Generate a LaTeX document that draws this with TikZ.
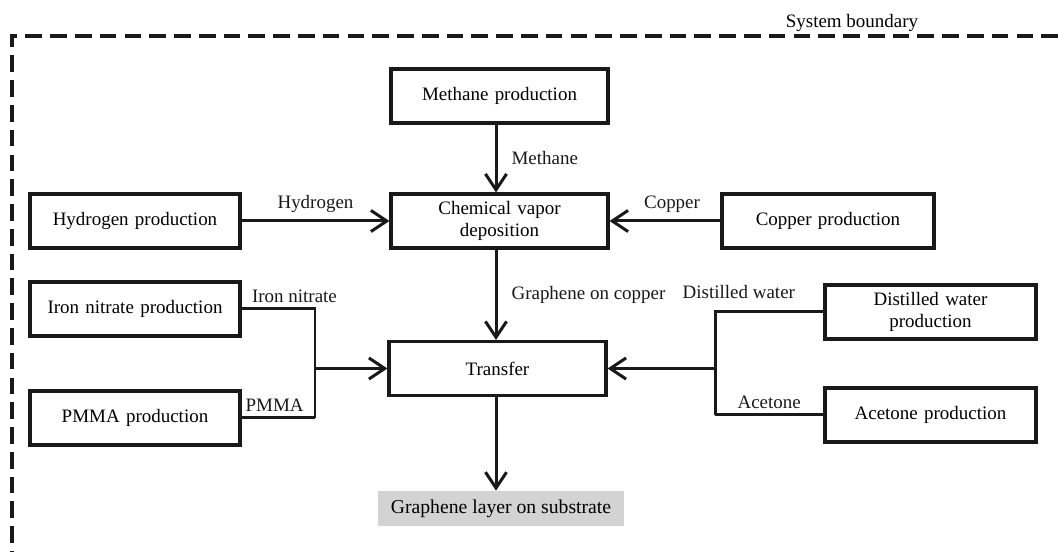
\documentclass[tikz,border=0pt]{standalone}
\usepackage{fontspec}
\setmainfont{Liberation Serif}
\usepackage{tikz}
\usetikzlibrary{arrows.meta,positioning,calc}
\definecolor{InkBlack}{RGB}{25,25,25}
\definecolor{OutGray}{RGB}{211,211,211}

\begin{document}
\begin{tikzpicture}[
      pNode/.style={draw=InkBlack,fill=white,minimum width=4.20cm,minimum height=1.08cm,
                    text width=4.0cm,align=center,inner sep=0pt,
                    font=\fontsize{10.8}{12.6}\selectfont,line width=1.8pt},
      cNode/.style={pNode,minimum width=4.34cm},
      oNode/.style={fill=OutGray,minimum width=4.92cm,minimum height=0.70cm,inner sep=0pt,
                    font=\fontsize{11.2}{12.6}\selectfont},
      lbl/.style={font=\fontsize{10.8}{12.6}\selectfont,inner sep=2pt},
      ar/.style={-{Straight Barb[length=9pt,width=12pt]},line width=1.7pt,color=InkBlack},
      ln/.style={line width=1.7pt,color=InkBlack},
      bnd/.style={line width=1.8pt,dash pattern=on 9.5pt off 4.6pt,color=InkBlack}
    ]
    \useasboundingbox (0,0) rectangle (21.16,11.04);

    % System boundary (top and left edges only)
    \draw[bnd] (21.16,10.32) -- (0.24,10.32) -- (0.24,0);
    \node(sb)[lbl] at (17.04,10.58) {System boundary};

    % Centre column
    \node(meth)[cNode] at (9.99, 9.12) {Methane production};
    \node(cvd)[cNode] at (9.99, 6.62) {Chemical vapor\\deposition};
    \node(tr)[cNode] at (9.95, 3.67) {Transfer};
    \node(out)[oNode] at (10.02, 0.87) {Graphene layer on substrate};

    % Side inputs
    \node(hyd)[pNode] at (2.70, 6.62) {Hydrogen production};
    \node(cu)[pNode,minimum width=4.24cm] at (16.56, 6.62) {Copper production};
    \node(fe)[pNode] at (2.70, 4.86) {Iron nitrate production};
    \node(pmma)[pNode] at (2.70, 2.68) {PMMA production};
    \node(dw)[pNode,minimum width=4.22cm] at (18.61, 4.80) {Distilled water\\production};
    \node(ac)[pNode,minimum width=4.22cm] at (18.61, 2.74) {Acetone production};

    % Junctions
    \coordinate(jL) at (6.30, 3.67);
    \coordinate(jR) at (14.30, 3.67);

    % Main line
    \draw[ar] (meth.south -| 9.92,0) -- node[lbl,right,xshift=6pt]{Methane} (cvd.north -| 9.92,0);
    \draw[ar] (cvd.south -| 9.92,0) -- node[lbl,right,xshift=6pt]{Graphene on copper} (tr.north -| 9.92,0);
    \draw[ar] (tr.south -| 9.92,0) -- (out.north -| 9.92,0);

    % CVD inputs
    \draw[ar] (hyd) -- node[lbl,above,yshift=2pt]{Hydrogen} (cvd);
    \draw[ar] (cu) -- node[lbl,above,yshift=2pt,xshift=4pt]{Copper} (cvd);

    % Transfer inputs, left
    \draw[ln] (fe.east) -- node[lbl,above,pos=0.72,yshift=1pt]{Iron nitrate} (fe.east -| jL) -- (pmma.east -| jL);
    \draw[ln] (pmma.east) -- node[lbl,above,pos=0.45,yshift=1pt]{PMMA} (pmma.east -| jL);
    \draw[ar] (jL) -- (tr);

    % Transfer inputs, right
    \draw[ln] (dw.west) -- node[lbl,above,pos=0.78,yshift=5pt]{Distilled water} (dw.west -| jR) -- (ac.west -| jR);
    \draw[ln] (ac.west) -- node[lbl,above,yshift=1pt]{Acetone} (ac.west -| jR);
    \draw[ar] (jR) -- (tr);
  \end{tikzpicture}
\end{document}
